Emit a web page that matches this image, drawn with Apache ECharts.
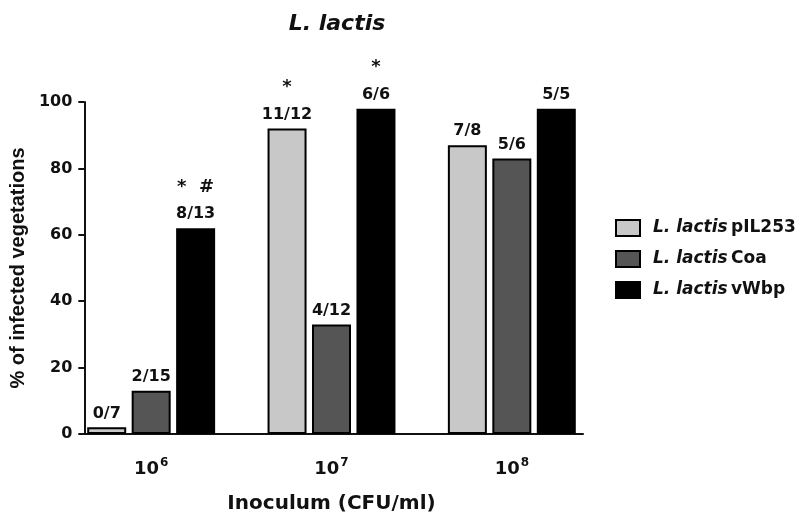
<!DOCTYPE html>
<html>
<head>
<meta charset="utf-8">
<script src="https://cdn.jsdelivr.net/npm/echarts@6/dist/echarts.min.js"></script>
<style>
  html, body { margin: 0; padding: 0; background: #fff; }
  #chart { width: 800px; height: 519px; }
</style>
</head>
<body>
<div id="chart"></div>
<script>
// inoculum groups (10^n)
const exponents = ['6', '7', '8']
const seriesNames = ['pIL253', 'Coa', 'vWbp']
// % infected vegetations
const pIL253 = [2, 92, 87]
const coa = [13, 33, 83]
const vwbp = [62, 98, 98]
// labels above bars
const pIL253Frac = ['0/7', '11/12', '7/8']
const coaFrac = ['2/15', '4/12', '5/6']
const vwbpFrac = ['8/13', '6/6', '5/5']
const pIL253Sig = ['', '*', '']
const coaSig = ['', '', '']
const vwbpSig = ['*  #', '*', '']

const colors = ['#c8c8c8', '#555555', '#000000']
// the figure is a bit stretched sideways, DejaVu's wide glyphs fit it better
const wide = 'DejaVu Sans, sans-serif'
const narrow = 'Liberation Sans, Arial, sans-serif'

const chart = echarts.init(document.getElementById('chart'))

function makeSeries (name, data, frac, sig, color) {
  return {
    name: name,
    type: 'bar',
    xAxisIndex: 0,
    yAxisIndex: 0,
    data: data,
    barWidth: 39,
    barGap: '14%',
    itemStyle: { color: color, borderColor: '#000', borderWidth: 2 },
    label: {
      show: true,
      position: 'top',
      distance: 4,
      formatter: p => {
        const s = sig[p.dataIndex]
        const f = '{f|' + frac[p.dataIndex] + '}'
        return s ? '{s|' + s + '}\n' + f : f
      },
      rich: {
        f: { fontFamily: wide, fontWeight: 'bold', fontSize: 16, color: '#111', lineHeight: 20 },
        s: { fontFamily: wide, fontWeight: 'bold', fontSize: 18, color: '#111', lineHeight: 34 }
      }
    }
  }
}

const option = {
  animation: false,
  backgroundColor: '#fff',
  title: {
    text: 'L. lactis',
    left: 332,
    textAlign: 'center',
    top: 8,
    textStyle: { fontFamily: wide, fontSize: 22, fontWeight: 'bold', fontStyle: 'italic', color: '#111' }
  },
  legend: {
    left: 615,
    top: 219,
    padding: 0,
    orient: 'vertical',
    icon: 'rect',
    itemWidth: 24,
    itemHeight: 16,
    itemGap: 13,
    data: seriesNames,
    formatter: n => '{i|L. lactis} {n|' + n + '}',
    textStyle: {
      rich: {
        i: { fontFamily: wide, fontSize: 17, fontWeight: 'bold', fontStyle: 'italic', color: '#111', lineHeight: 16, padding: [0, 0, 0, 8] },
        n: { fontFamily: wide, fontSize: 17, fontWeight: 'bold', color: '#111', lineHeight: 16 }
      }
    }
  },
  grid: [
    { left: 61, right: 198, top: 102, bottom: 85 },
    { left: 80, right: 217, top: 102, bottom: 85 }
  ],
  xAxis: [
    {
      gridIndex: 0,
      type: 'category',
      data: exponents,
      axisLine: { show: false },
      axisTick: { show: false },
      axisLabel: {
        margin: 23,
        formatter: v => '{b|10}{sup|' + v + '}',
        rich: {
          b: { fontFamily: wide, fontSize: 18, fontWeight: 'bold', color: '#111' },
          sup: { fontFamily: wide, fontSize: 12, fontWeight: 'bold', color: '#111', padding: [0, 0, 12, 1] }
        }
      },
      name: 'Inoculum (CFU/ml)',
      nameLocation: 'middle',
      nameGap: 60,
      nameTextStyle: { fontFamily: wide, fontSize: 20, fontWeight: 'bold', color: '#111' }
    },
    {
      gridIndex: 1,
      type: 'value',
      min: 0,
      max: 1,
      axisLine: { show: true, lineStyle: { color: '#111', width: 2 } },
      axisTick: { show: false },
      axisLabel: { show: false },
      splitLine: { show: false }
    }
  ],
  yAxis: [
    {
      gridIndex: 0,
      type: 'value',
      min: 0,
      max: 100,
      show: false
    },
    {
      gridIndex: 1,
      type: 'value',
      min: 0,
      max: 100,
      interval: 20,
      axisLine: { show: true, lineStyle: { color: '#111', width: 2 } },
      axisTick: { show: true, length: 6, lineStyle: { color: '#111', width: 2 } },
      axisLabel: {
        margin: 12,
        fontFamily: wide,
        fontSize: 16,
        fontWeight: 'bold',
        color: '#111'
      },
      splitLine: { show: false },
      name: '% of infected vegetations',
      nameLocation: 'middle',
      nameGap: 54,
      nameTextStyle: { fontFamily: narrow, fontSize: 20, fontWeight: 'bold', color: '#111' }
    }
  ],
  series: [
    makeSeries(seriesNames[0], pIL253, pIL253Frac, pIL253Sig, colors[0]),
    makeSeries(seriesNames[1], coa, coaFrac, coaSig, colors[1]),
    makeSeries(seriesNames[2], vwbp, vwbpFrac, vwbpSig, colors[2])
  ]
}

chart.setOption(option)
</script>
</body>
</html>
